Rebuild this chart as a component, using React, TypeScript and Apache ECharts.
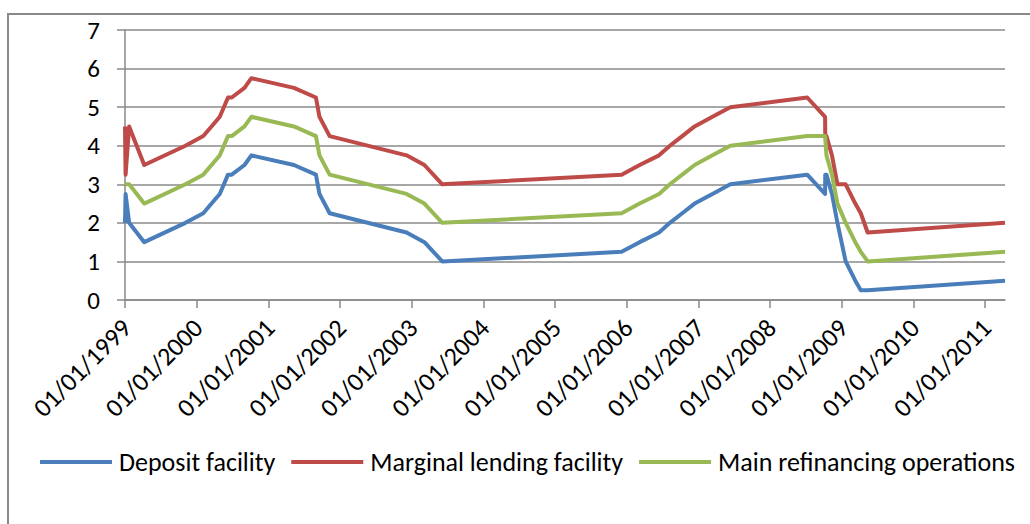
import React, { useEffect, useRef } from "react";
import * as echarts from "echarts";

// Key ECB interest rates (change dates)
const DATES = [
  "1999-01-01", "1999-01-04", "1999-01-22", "1999-04-09", "1999-11-05",
  "2000-02-04", "2000-03-17", "2000-04-28", "2000-06-09", "2000-06-28",
  "2000-09-01", "2000-10-06", "2001-05-11", "2001-08-31", "2001-09-18",
  "2001-11-09", "2002-12-06", "2003-03-07", "2003-06-06", "2005-12-06",
  "2006-03-08", "2006-06-15", "2006-08-09", "2006-10-11", "2006-12-13",
  "2007-03-14", "2007-06-13", "2008-07-09", "2008-10-08", "2008-10-09",
  "2008-10-15", "2008-11-12", "2008-12-10", "2009-01-21", "2009-03-11",
  "2009-04-08", "2009-05-13", "2011-04-13",
];
const DEPOSIT = [
  2.0, 2.75, 2.0, 1.5, 2.0,
  2.25, 2.5, 2.75, 3.25, 3.25,
  3.5, 3.75, 3.5, 3.25, 2.75,
  2.25, 1.75, 1.5, 1.0, 1.25,
  1.5, 1.75, 2.0, 2.25, 2.5,
  2.75, 3.0, 3.25, 2.75, 3.25,
  3.25, 2.75, 2.0, 1.0, 0.5,
  0.25, 0.25, 0.5,
];
const MARGINAL = [
  4.5, 3.25, 4.5, 3.5, 4.0,
  4.25, 4.5, 4.75, 5.25, 5.25,
  5.5, 5.75, 5.5, 5.25, 4.75,
  4.25, 3.75, 3.5, 3.0, 3.25,
  3.5, 3.75, 4.0, 4.25, 4.5,
  4.75, 5.0, 5.25, 4.75, 4.25,
  4.25, 3.75, 3.0, 3.0, 2.5,
  2.25, 1.75, 2.0,
];
const MAIN_REFI = [
  3.0, 3.0, 3.0, 2.5, 3.0,
  3.25, 3.5, 3.75, 4.25, 4.25,
  4.5, 4.75, 4.5, 4.25, 3.75,
  3.25, 2.75, 2.5, 2.0, 2.25,
  2.5, 2.75, 3.0, 3.25, 3.5,
  3.75, 4.0, 4.25, 4.25, 4.25,
  3.75, 3.25, 2.5, 2.0, 1.5,
  1.25, 1.0, 1.25,
];
const SERIES_NAMES = ["Deposit facility", "Marginal lending facility", "Main refinancing operations"];
const Y_MIN = 0;
const Y_MAX = 7;
const Y_STEP = 1;
const YEAR_MS = 365.25 * 24 * 3600 * 1000;

const toTs = (s: string) => new Date(s + "T00:00:00").getTime();
const pad = (n: number) => (n < 10 ? "0" + n : "" + n);
const fmt = (v: number) => {
  const d = new Date(v);
  return pad(d.getDate()) + "/" + pad(d.getMonth() + 1) + "/" + d.getFullYear();
};

const FONT = "Carlito, Calibri, Lato, sans-serif";
const GRID_GRAY = "#8a8a8a";

export default function App() {
  const ref = useRef<HTMLDivElement>(null);
  useEffect(() => {
    if (!ref.current) return;
    const chart = echarts.init(ref.current, undefined, { renderer: "svg" });
    const mk = (vals: number[]) => DATES.map((d, i) => [toTs(d), vals[i]]);
    const colors = ["#4A7EBB", "#BE4B48", "#98B954"];
    const valuesList = [DEPOSIT, MARGINAL, MAIN_REFI];
    chart.setOption({
      animation: false,
      textStyle: { fontFamily: FONT },
      grid: { left: 125, right: 25, top: 30, bottom: 224 },
      graphic: [
        {
          type: "rect",
          shape: { x: 8, y: 14, width: 1060, height: 560 },
          style: { fill: "none", stroke: "#898989", lineWidth: 2 },
          silent: true,
        },
      ],
      legend: {
        left: 35,
        top: 444,
        icon: "rect",
        itemWidth: 72,
        itemHeight: 4,
        itemGap: 16,
        textStyle: { fontSize: 26, color: "#000", fontFamily: FONT, padding: [0, 0, 0, 2] },
        data: SERIES_NAMES,
      },
      xAxis: {
        type: "time",
        min: "dataMin",
        max: "dataMax",
        minInterval: YEAR_MS * 0.99,
        maxInterval: YEAR_MS * 1.01,
        axisLine: { show: true, lineStyle: { color: GRID_GRAY, width: 1.5 } },
        axisTick: { show: true, length: 8, lineStyle: { color: GRID_GRAY, width: 1.5 } },
        splitLine: { show: false },
        axisLabel: {
          rotate: 45,
          fontSize: 26,
          color: "#000",
          fontFamily: FONT,
          margin: 22,
          padding: [4, 0, 0, 0],
          showMinLabel: true,
          showMaxLabel: false,
          hideOverlap: false,
          formatter: (v: number) => fmt(v),
        },
      },
      yAxis: {
        type: "value",
        min: Y_MIN,
        max: Y_MAX,
        interval: Y_STEP,
        axisLine: { show: true, lineStyle: { color: GRID_GRAY, width: 1.5 } },
        axisTick: { show: true, length: 8, lineStyle: { color: GRID_GRAY, width: 1.5 } },
        splitLine: { show: true, lineStyle: { color: GRID_GRAY, width: 1.5 } },
        axisLabel: { fontSize: 25, color: "#000", fontFamily: FONT, margin: 25 },
      },
      series: SERIES_NAMES.map((name, i) => ({
        name,
        type: "line",
        data: mk(valuesList[i]),
        showSymbol: false,
        symbol: "none",
        color: colors[i],
        lineStyle: { color: colors[i], width: 4, join: "round" },
      })),
    });
    return () => chart.dispose();
  }, []);
  return (
    <div
      ref={ref}
      style={{ position: "fixed", left: 0, top: 0, width: 1030, height: 524, background: "#fff" }}
    />
  );
}
